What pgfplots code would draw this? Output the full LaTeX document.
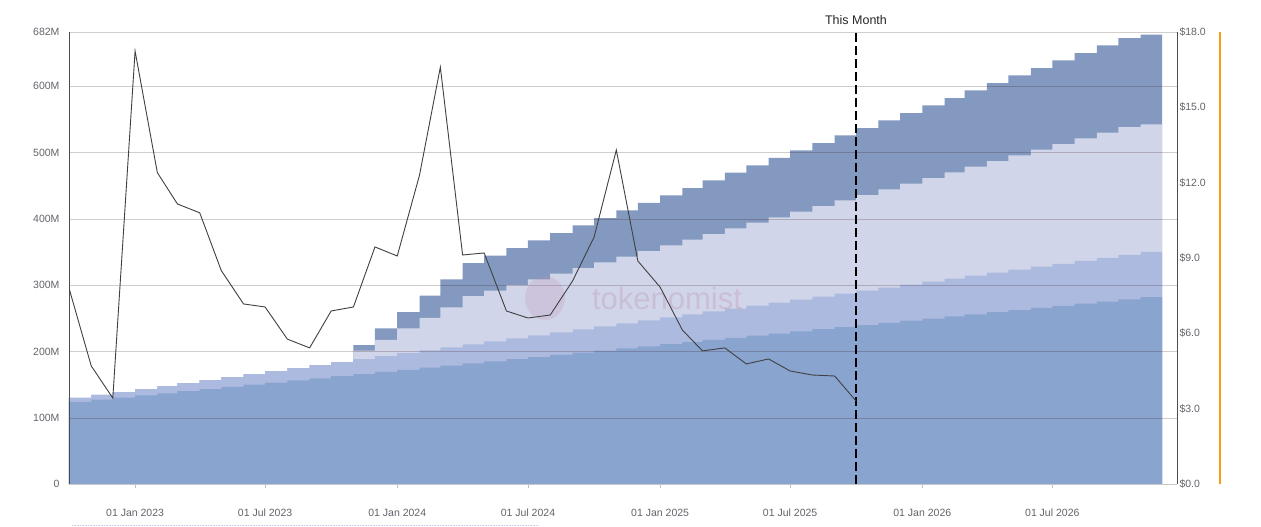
\documentclass[border=0pt]{standalone}
\usepackage{fontspec}
\setmainfont{Liberation Sans}
\usepackage{pgfplots}
\usepackage{pgfplotstable}
\pgfplotsset{compat=1.18}
\definecolor{cA}{RGB}{138,164,208}
\definecolor{cB}{RGB}{173,186,223}
\definecolor{cC}{RGB}{208,213,233}
\definecolor{cD}{RGB}{132,153,191}
\definecolor{ticktxt}{RGB}{100,100,108}
\definecolor{wm}{RGB}{190,140,175}
\definecolor{orangeline}{RGB}{245,158,20}

% cumulative supply (millions), monthly steps; x = days since 01 Jan 2023
\pgfplotstableread{
x L1 L2 L3 L4
-92 124.0 129.8 129.8 129.8
-61 127.2 134.3 134.3 134.3
-31 130.4 138.8 138.8 138.8
0 133.7 143.3 143.3 143.3
31 136.9 147.8 147.8 147.8
59 140.1 152.3 152.3 152.3
90 143.3 156.8 156.8 156.8
120 146.5 161.3 161.3 161.3
151 149.8 165.8 165.8 165.8
181 153.0 170.3 170.3 170.3
212 156.2 174.8 174.8 174.8
243 159.4 179.3 179.3 179.3
273 162.6 183.8 183.8 183.8
304 165.9 188.3 201.1 209.7
334 169.1 192.8 217.3 234.9
365 172.3 197.3 234.9 259.5
396 175.5 201.8 250.5 284.1
425 178.7 206.3 266.6 308.8
456 182.0 210.8 283.6 333.4
486 185.2 215.3 291.7 344.5
517 188.4 219.8 300.2 356.0
547 191.6 224.3 308.8 367.6
578 194.8 228.8 317.3 378.7
609 198.1 233.3 325.9 390.3
639 201.3 237.8 334.4 401.3
670 204.5 242.3 343.0 412.9
700 207.7 246.8 351.5 424.0
731 210.9 251.3 360.1 435.6
762 214.2 255.8 368.6 446.6
790 217.4 260.3 377.2 458.2
821 220.6 264.8 385.8 469.8
851 223.8 269.3 394.4 480.8
882 227.0 273.8 402.4 491.9
912 230.3 278.3 410.9 503.5
943 233.5 282.8 419.4 514.5
974 236.7 287.3 428.0 526.1
1004 239.9 291.8 436.0 537.1
1035 243.1 296.3 444.6 548.7
1065 246.4 300.8 453.1 559.7
1096 249.6 305.3 461.7 571.3
1127 252.8 309.8 470.3 582.4
1155 256.0 314.3 478.8 594.0
1186 259.2 318.8 487.3 605.0
1216 262.5 323.3 495.9 616.6
1247 265.7 327.8 504.4 627.6
1277 268.9 332.3 512.9 639.2
1308 272.1 336.8 521.5 650.3
1339 275.3 341.3 530.0 661.8
1369 278.6 345.8 538.6 672.9
1400 281.8 350.3 542.7 677.9
1430 281.8 350.3 542.7 677.9
}\supply

\pgfplotstableread{
x p
-92 7.80
-61 4.70
-31 3.42
0 17.24
31 12.40
59 11.15
90 10.80
120 8.50
151 7.17
181 7.05
212 5.77
243 5.42
273 6.89
304 7.05
334 9.44
365 9.08
396 12.30
425 16.60
456 9.12
486 9.20
517 6.89
547 6.61
578 6.73
609 8.08
639 9.83
670 13.30
700 8.88
731 7.84
762 6.13
790 5.30
821 5.42
851 4.78
882 4.98
912 4.50
943 4.34
974 4.30
1004 3.30
}\price

\begin{document}
\begin{tikzpicture}[x=1pt,y=1pt]
\useasboundingbox (0,0) rectangle (1261,527);
\fill[white] (0,0) rectangle (1261,527);
\begin{axis}[
  at={(69pt,43pt)}, anchor=south west,
  scale only axis, width=1108pt, height=452pt,
  xmin=-92, xmax=1450.6, ymin=0, ymax=682,
  axis on top,
  axis x line*=bottom, axis y line*=left,
  axis line style={-},
  x axis line style={draw=black!22},
  y axis line style={draw=black!70},
  xtick={0,181,365,547,731,912,1096,1277},
  xticklabels={01 Jan 2023,01 Jul 2023,01 Jan 2024,01 Jul 2024,01 Jan 2025,01 Jul 2025,01 Jan 2026,01 Jul 2026},
  tick align=outside, major tick length=4pt,
  xtick style={draw=black!25},
  ytick={0,100,200,300,400,500,600,682},
  yticklabels={0,100M,200M,300M,400M,500M,600M,682M},
  ytick style={draw=none},
  ymajorgrids,
  major grid style={draw=black!85!red, opacity=0.2},
  tick label style={font=\fontsize{10.5}{12}\selectfont, text=ticktxt},
  xticklabel style={yshift=-17pt, text height=8pt, text depth=2pt},
  yticklabel style={xshift=-2pt},
]
\addplot[const plot, fill=cD, draw=none] table[x=x,y=L4] {\supply} \closedcycle;
\addplot[const plot, fill=cC, draw=none] table[x=x,y=L3] {\supply} \closedcycle;
\addplot[const plot, fill=cB, draw=none] table[x=x,y=L2] {\supply} \closedcycle;
\addplot[const plot, fill=cA, draw=none] table[x=x,y=L1] {\supply} \closedcycle;
\addplot[black, line width=2pt, dash pattern=on 9pt off 4pt] coordinates {(1004,0) (1004,682)};
\end{axis}
\fill[wm, opacity=0.22] (545,229) ellipse (20 and 22);
\node[anchor=base, font=\fontsize{31}{34}\selectfont, text=wm, opacity=0.3] at (667,217) {tokenomist};
\begin{axis}[
  at={(69pt,43pt)}, anchor=south west,
  scale only axis, width=1108pt, height=452pt,
  xmin=-92, xmax=1450.6, ymin=0, ymax=18,
  axis x line=none, axis y line*=right,
  axis line style={-},
  y axis line style={draw=black!70},
  ytick={0,3,6,9,12,15,18},
  yticklabels={\$0.0,\$3.0,\$6.0,\$9.0,\$12.0,\$15.0,\$18.0},
  ytick style={draw=none},
  tick label style={font=\fontsize{10.5}{12}\selectfont, text=ticktxt},
  yticklabel style={xshift=-1pt},
]
\addplot[draw=black!75, line width=0.9pt] table[x=x,y=p] {\price};
\end{axis}
\draw[orangeline, line width=1.4pt] (1220,43) -- (1220,495);
\draw[densely dotted, color=cB!70, line width=0.6pt] (72,1.5) -- (538,1.5);
\node[anchor=base, font=\fontsize{12.5}{14}\selectfont, text=black!85] at (856,502) {This Month};
\end{tikzpicture}
\end{document}
